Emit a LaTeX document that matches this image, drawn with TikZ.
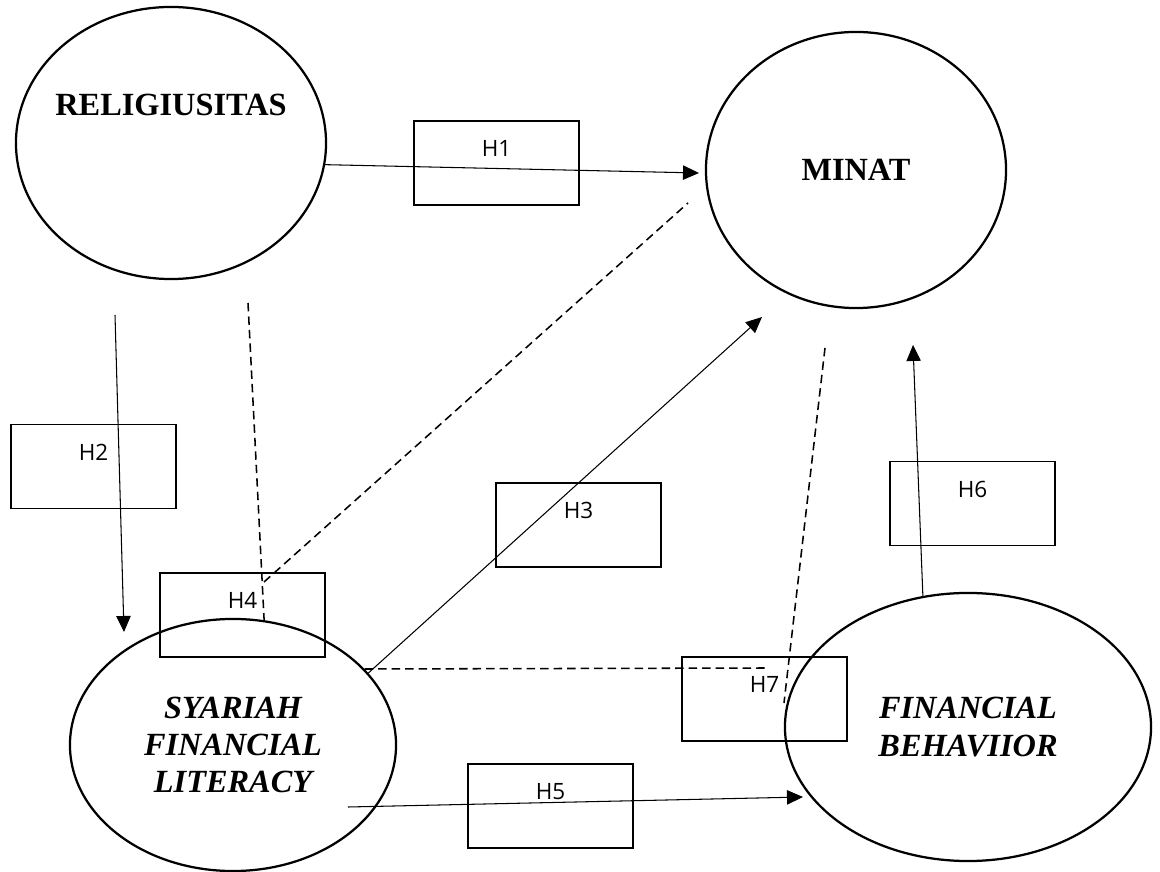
\documentclass[tikz,border=0pt]{standalone}
\usepackage{fontspec}
\setmainfont{Liberation Serif}
\newfontfamily\hfont{Open Sans}
\usetikzlibrary{arrows.meta,shapes.geometric}

\begin{document}
\begin{tikzpicture}[
  x=0.025cm, y=-0.025cm,
  ctext/.style={font=\fontsize{23}{26.5}\selectfont\bfseries},
  construct/.style={draw, ellipse, line width=1.6pt, inner sep=0pt, align=center, ctext},
  hyp/.style={draw, rectangle, line width=1.2pt, minimum width=4.125cm, minimum height=2.1cm, inner sep=0pt},
  hlabel/.style={anchor=center, yshift=-0.71cm, font=\hfont\fontsize{16}{19}\selectfont},
  arrow/.style={-{Triangle[length=0.4cm, width=0.36cm]}, line width=0.75pt},
  dashline/.style={dash pattern=on 6pt off 3.6pt, line width=1.1pt}
]
  \useasboundingbox (0,0) rectangle (1160,872);

  % Constructs
  \node[construct, minimum width=7.75cm, minimum height=6.8cm,
        label={[ctext, yshift=0.95cm]center:RELIGIUSITAS}] (religi) at (171,143) {};
  \node[construct, minimum width=7.5cm, minimum height=6.9cm] (minat) at (856,170) {MINAT};
  \node[construct, minimum width=8.15cm, minimum height=6.3cm,
        font=\fontsize{23}{26.5}\selectfont\bfseries\itshape] (syariah) at (233,745) {SYARIAH\\FINANCIAL\\LITERACY};
  \node[construct, minimum width=9.15cm, minimum height=6.7cm,
        font=\fontsize{23}{26.5}\selectfont\bfseries\itshape] (fb) at (968,727) {FINANCIAL\\BEHAVIIOR};

  % Hypothesis boxes
  \node[hyp, label={[hlabel]north:H1}] (h1) at (496.5,163) {};
  \node[hyp, label={[hlabel]north:H2}] (h2) at (93.5,466.5) {};
  \node[hyp, label={[hlabel]north:H3}] (h3) at (578.5,525) {};
  \node[hyp, label={[hlabel]north:H4}] (h4) at (242.5,615) {};
  \node[hyp, label={[hlabel]north:H5}] (h5) at (550.5,806) {};
  \node[hyp, label={[hlabel]north:H6}] (h6) at (972.5,503.5) {};
  \node[hyp, label={[hlabel]north:H7}] (h7) at (764.5,699) {};

  % Free ends
  \coordinate (h1end) at (699,173);
  \coordinate (h2start) at (115,315);
  \coordinate (h2end) at (124,632);
  \coordinate (h4top) at (248,303);
  \coordinate (h4mid) at (264,582);
  \coordinate (h4end) at (688,203);
  \coordinate (h3end) at (762,317);
  \coordinate (h7end) at (768,668);
  \coordinate (h7top) at (825,348);
  \coordinate (h7low) at (784,703);
  \coordinate (h5start) at (348,807);
  \coordinate (h5end) at (803,797);
  \coordinate (h6end) at (913,345);

  % Direct paths
  \draw[arrow] (religi.-8) -- (h1end);
  \draw[arrow] (h2start) -- (h2end);
  \draw[arrow] (syariah.28) -- (h3end);
  \draw[arrow] (h5start) -- (h5end);
  \draw[arrow] (fb.109) -- (h6end);

  % Mediation paths
  \draw[dashline] (h4top) -- (syariah.76);
  \draw[dashline] (h4mid) -- (h4end);
  \draw[dashline] (syariah.30) -- (h7end);
  \draw[dashline] (h7top) -- (h7low);
\end{tikzpicture}
\end{document}
